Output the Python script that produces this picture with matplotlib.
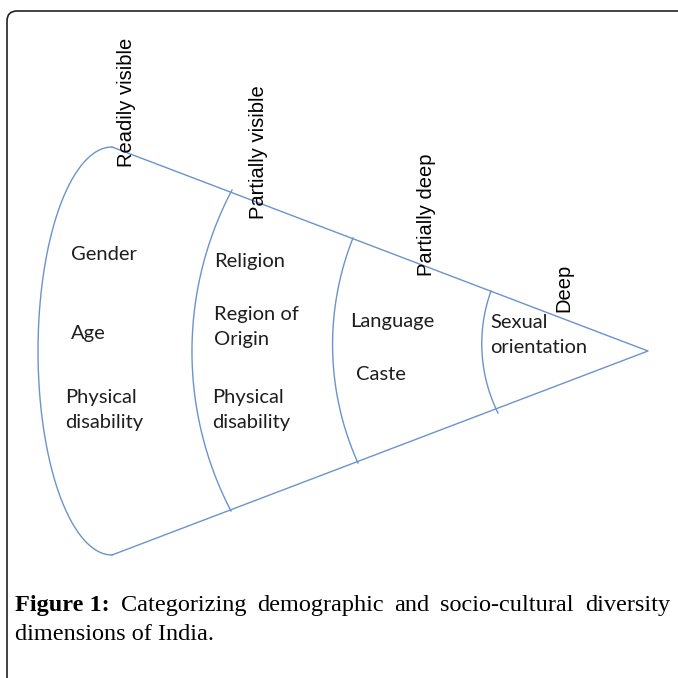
import numpy as np
import matplotlib

matplotlib.use("Agg")

import matplotlib.pyplot as plt
from matplotlib.patches import FancyBboxPatch

# layers of the cone, from the wide end to the tip
layer_names = ["Readily visible", "Partially visible", "Partially deep", "Deep"]
layer_items = [
    ["Gender", "Age", "Physical\ndisability"],
    ["Religion", "Region of\nOrigin", "Physical\ndisability"],
    ["Language", "Caste"],
    ["Sexual\norientation"],
]
caption_bold = "Figure 1:"
caption_text = "Categorizing demographic and socio-cultural diversity dimensions of India."

# layout (pixel space, y pointing down)
name_pos = [(126, 167), (259, 219), (426, 276), (564, 312)]
item_pos = [
    [(71, 254), (71, 333), (65, 410)],
    [(214, 261), (214, 327), (212, 410)],
    [(350, 322), (356, 375)],
    [(490, 335)],
]
apex = (648, 351)
base_top = (112, 147)
base_bot = (112, 555)
base_depth = 74
# three points (top, leftmost, bottom) for each inner boundary
inner_arcs = [
    [(232, 190), (192, 355), (231, 511)],
    [(353, 238), (333, 360), (358, 463)],
    [(491, 291), (482, 352), (498, 413)],
]

line_col = "#6b93cc"
text_col = "#1e1e1e"

fig = plt.figure(figsize=(6.78, 6.78), dpi=100)
ax = fig.add_axes([0, 0, 1, 1])
ax.set_xlim(0, 678)
ax.set_ylim(678, 0)
ax.axis("off")

# frame round the figure, cut at right and bottom
frame = FancyBboxPatch((7, 11), 700, 700, boxstyle="round,pad=0,rounding_size=10",
                       fc="none", ec="#222222", lw=1.2)
ax.add_patch(frame)

# cone sides
ax.plot([base_top[0], apex[0], base_bot[0]], [base_top[1], apex[1], base_bot[1]],
        color=line_col, lw=1.0)

# wide end: half ellipse
cy = (base_top[1] + base_bot[1]) / 2
b = (base_bot[1] - base_top[1]) / 2
th = np.linspace(0, np.pi, 200)
ax.plot(base_top[0] - base_depth * np.sin(th), cy - b * np.cos(th), color=line_col, lw=1.0)


def circle_arc(p1, p2, p3, n=100):
    (x1, y1), (x2, y2), (x3, y3) = p1, p2, p3
    d = 2 * (x1 * (y2 - y3) + x2 * (y3 - y1) + x3 * (y1 - y2))
    ux = ((x1**2 + y1**2) * (y2 - y3) + (x2**2 + y2**2) * (y3 - y1) + (x3**2 + y3**2) * (y1 - y2)) / d
    uy = ((x1**2 + y1**2) * (x3 - x2) + (x2**2 + y2**2) * (x1 - x3) + (x3**2 + y3**2) * (x2 - x1)) / d
    r = np.hypot(x1 - ux, y1 - uy)
    a1 = np.arctan2(y1 - uy, x1 - ux) % (2 * np.pi)
    a3 = np.arctan2(y3 - uy, x3 - ux) % (2 * np.pi)
    a = np.linspace(a1, a3, n)
    return ux + r * np.cos(a), uy + r * np.sin(a)


for pts in inner_arcs:
    xs, ys = circle_arc(*pts)
    ax.plot(xs, ys, color=line_col, lw=1.0)

for name, (x, y) in zip(layer_names, name_pos):
    ax.text(x, y, name, rotation=90, ha="center", va="bottom", fontsize=14.5,
            family="Liberation Sans", color="black")

for items, poss in zip(layer_items, item_pos):
    for item, (x, y) in zip(items, poss):
        ax.text(x, y, item, ha="left", va="center", fontsize=14.5, family="Lato",
                color=text_col, linespacing=1.55)

# justified caption
renderer = fig.canvas.get_renderer()
left, right = 15, 670
words = caption_text.split()
line1 = [caption_bold] + words[:5]
line2 = words[5:]
cap_font = dict(family="Liberation Serif", fontsize=17.5, color="black", va="baseline")

objs = []
for i, w in enumerate(line1):
    t = ax.text(0, 611, w, fontweight="bold" if i == 0 else "normal", **cap_font)
    objs.append(t)
widths = [t.get_window_extent(renderer).width for t in objs]
gap = (right - left - sum(widths)) / (len(objs) - 1)
x = left
for t, w in zip(objs, widths):
    t.set_x(x)
    x += w + gap

ax.text(left, 640, " ".join(line2), **cap_font)

fig.savefig("out.png", dpi=100)
